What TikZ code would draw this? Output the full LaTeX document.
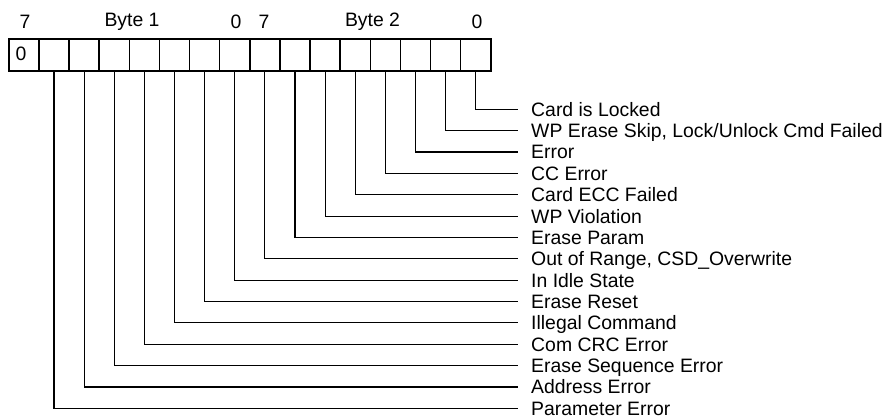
\documentclass[tikz,border=0pt]{standalone}
\usepackage{fontspec}
\setmainfont{Liberation Sans}
\begin{document}
\begin{tikzpicture}[x=1pt,y=-1pt,
  font=\fontsize{19.4}{23}\selectfont,
  bit/.style={draw, line width=1.6pt, minimum width=30.125pt, minimum height=32pt, inner sep=0pt, anchor=north west},
  conn/.style={line width=1.1pt},
  lbl/.style={anchor=west, inner xsep=13pt, inner ysep=0pt, text height=13.9pt, text depth=0pt},
  top/.style={inner sep=0pt}]
\useasboundingbox (0,0) rectangle (888,418);
\foreach \k in {1,...,16}
  \node[bit] (b\k) at ({8+30.125*(\k-1)},38) {};
\node[top] (z0) at (21,54) {0};
\node[top] (t1) at (25,22) {7};
\node[top] (t2) at (132,22) {Byte 1};
\node[top] (t3) at (236,22) {0};
\node[top] (t4) at (264,22) {7};
\node[top] (t5) at (372.5,22) {Byte 2};
\node[top] (t6) at (477,22) {0};
\foreach \t [count=\i from 0] in {Card is Locked, {WP Erase Skip, Lock/Unlock Cmd Failed}, Error, CC Error, Card ECC Failed, WP Violation, Erase Param, {Out of Range, CSD\_Overwrite}, In Idle State, Erase Reset, Illegal Command, Com CRC Error, Erase Sequence Error, Address Error, Parameter Error}
{
  \node[lbl] (L\i) at (518,{109.3+21.36*\i}) {\t};
  \pgfmathtruncatemacro\k{16-\i}
  \draw[conn] (b\k.south) |- (L\i.west);
}
\end{tikzpicture}
\end{document}
